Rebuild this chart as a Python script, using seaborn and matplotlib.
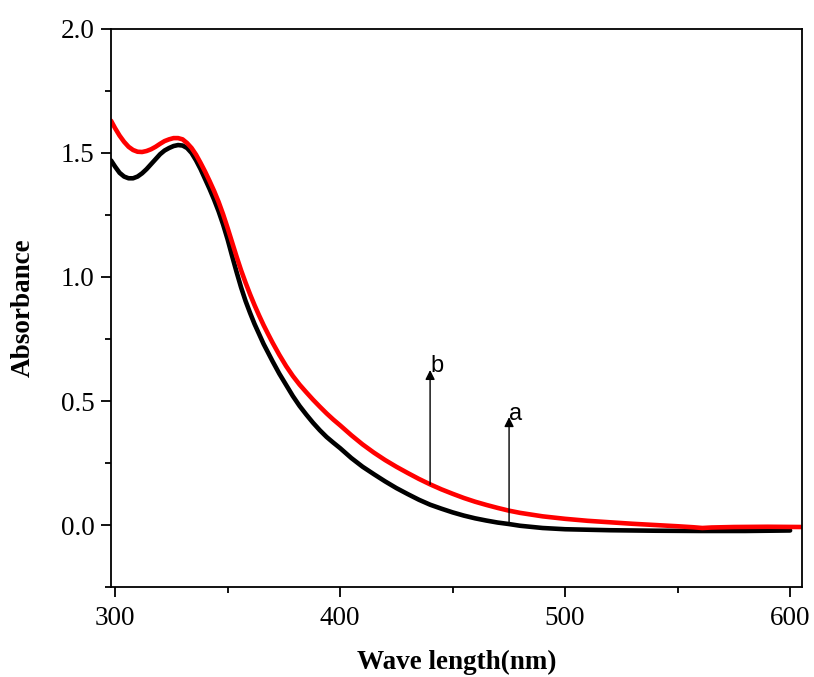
import numpy as np
import pandas as pd
import matplotlib
matplotlib.use("Agg")
import matplotlib.pyplot as plt
import seaborn as sns

# Wavelength (nm) and absorbance
wl_a = [298.2, 300, 302, 304, 306, 308, 310, 312, 314, 316, 318, 320, 322, 324, 326, 328, 330, 332, 334, 336,
        338, 340, 342, 344, 346, 348, 350, 352, 354, 356, 358, 360, 362, 364, 366, 368, 370, 373, 376, 379,
        382, 385, 388, 391, 394, 397, 400, 405, 410, 415, 420, 425, 430, 435, 440, 445, 450, 455, 460, 465,
        470, 475, 480, 490, 500, 520, 540, 560, 580, 600]
abs_a = [1.47, 1.445, 1.42, 1.405, 1.398, 1.398, 1.405, 1.418, 1.435, 1.455, 1.475, 1.495, 1.51, 1.52, 1.528, 1.532, 1.53, 1.52, 1.50, 1.47,
         1.435, 1.395, 1.355, 1.312, 1.265, 1.212, 1.152, 1.085, 1.02, 0.958, 0.903, 0.855, 0.81, 0.77, 0.73, 0.695, 0.66, 0.61, 0.565, 0.52,
         0.48, 0.445, 0.412, 0.382, 0.355, 0.332, 0.31, 0.27, 0.235, 0.205, 0.176, 0.149, 0.125, 0.102, 0.082, 0.066, 0.051, 0.038, 0.027, 0.018,
         0.01, 0.004, -0.003, -0.012, -0.017, -0.021, -0.023, -0.024, -0.024, -0.022]

wl_b = [298.2, 300, 302, 304, 306, 308, 310, 312, 314, 316, 318, 320, 322, 324, 326, 328, 330, 332, 334, 336,
        338, 340, 342, 344, 346, 348, 350, 352, 354, 356, 358, 360, 362, 364, 366, 368, 370, 373, 376, 379,
        382, 385, 388, 391, 394, 397, 400, 405, 410, 415, 420, 425, 430, 435, 440, 445, 450, 455, 460, 465,
        470, 475, 480, 490, 500, 510, 520, 530, 540, 550, 557, 561, 565, 575, 590, 605]
abs_b = [1.63, 1.60, 1.57, 1.545, 1.525, 1.512, 1.505, 1.504, 1.508, 1.515, 1.525, 1.537, 1.548, 1.555, 1.56, 1.56, 1.555, 1.54, 1.52, 1.493,
         1.46, 1.425, 1.387, 1.347, 1.303, 1.253, 1.198, 1.14, 1.082, 1.027, 0.977, 0.93, 0.886, 0.845, 0.806, 0.77, 0.735, 0.686, 0.641, 0.601,
         0.566, 0.535, 0.505, 0.477, 0.45, 0.425, 0.402, 0.362, 0.325, 0.292, 0.262, 0.235, 0.21, 0.186, 0.164, 0.144, 0.126, 0.109, 0.094, 0.081,
         0.069, 0.058, 0.049, 0.035, 0.025, 0.017, 0.011, 0.005, 0.0, -0.005, -0.009, -0.012, -0.01, -0.008, -0.007, -0.008]

arrow_x = [440.0, 475.1]
arrow_base = [0.164, 0.006]
arrow_tip = [0.625, 0.435]
arrow_labels = ["b", "a"]

sns.set_theme(style="white")
plt.rcParams['font.family'] = ['Liberation Serif', 'DejaVu Serif']
plt.rcParams['text.color'] = 'black'
plt.rcParams['axes.labelcolor'] = 'black'
plt.rcParams['xtick.color'] = 'black'
plt.rcParams['ytick.color'] = 'black'

fig = plt.figure(figsize=(8.14, 6.77), dpi=100)
ax = fig.add_axes([0.1364, 0.1329, 0.8489, 0.8243])

df = pd.concat([
    pd.DataFrame({"wl": wl_a, "A": abs_a, "s": "a"}),
    pd.DataFrame({"wl": wl_b, "A": abs_b, "s": "b"}),
])
sns.lineplot(data=df, x="wl", y="A", hue="s", palette={"a": "black", "b": "#ff0000"},
             linewidth=3.3, legend=False, ax=ax, sort=True, estimator=None)

for x, y0, y1, lab in zip(arrow_x, arrow_base, arrow_tip, arrow_labels):
    ax.annotate("", xy=(x, y1), xytext=(x, y0),
                arrowprops=dict(arrowstyle="-|>", color="black", lw=1.0,
                                mutation_scale=14, shrinkA=0, shrinkB=0))
    ax.text(x, y1 - 0.03, lab, fontsize=17, color="black",
            family=['Liberation Sans', 'DejaVu Sans'], ha="left", va="bottom")

ax.set_xlim(298.2, 605.3)
ax.set_ylim(-0.25, 2.0)
ax.set_xticks([300, 400, 500, 600])
ax.set_xticks([350, 450, 550], minor=True)
ax.set_yticks([0.0, 0.5, 1.0, 1.5, 2.0])
ax.set_yticks([-0.25, 0.25, 0.75, 1.25, 1.75], minor=True)
ax.set_yticklabels(["0.0", "0.5", "1.0", "1.5", "2.0"])

ax.tick_params(axis="both", which="major", direction="out", length=7, width=1.3,
               labelsize=19.5, colors="black", bottom=True, left=True, top=False, right=False)
ax.tick_params(axis="x", which="major", pad=7)
ax.tick_params(axis="y", which="major", pad=5)
ax.tick_params(axis="both", which="minor", direction="out", length=4.5, width=1.3,
               bottom=True, left=True, top=False, right=False)
for sp in ax.spines.values():
    sp.set_visible(True)
    sp.set_color("black")
    sp.set_linewidth(1.3)

ax.set_xlabel("Wave length(nm)", fontsize=19.5, fontweight="bold", labelpad=13, color="black")
ax.set_ylabel("Absorbance", fontsize=19.5, fontweight="bold", labelpad=18, color="black")

fig.savefig("out.png", dpi=100)
